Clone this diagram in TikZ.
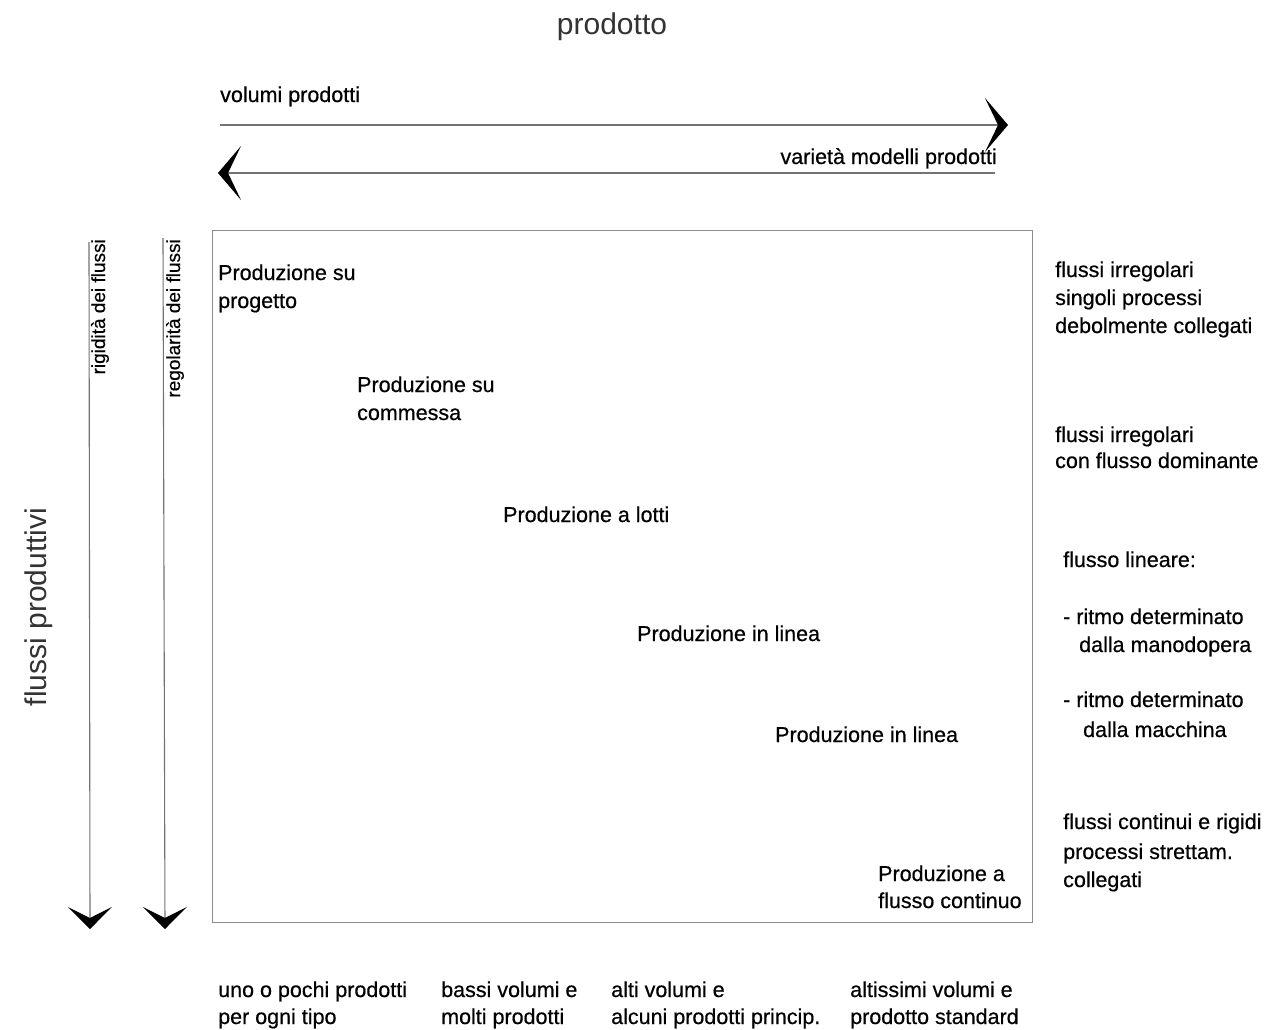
\documentclass[tikz,border=0pt]{standalone}
\usepackage{fontspec}
\setmainfont{Liberation Sans}[FakeBold=0.5]
\newfontfamily\thinfont{Liberation Sans}
\usetikzlibrary{arrows.meta}
\begin{document}
\begin{tikzpicture}[x=1pt,y=-1pt,
  lbl/.style={inner sep=0pt, anchor=base west, font=\fontsize{21.5}{28}\selectfont, text=black},
  lblr/.style={lbl, anchor=base east},
  vlbl/.style={inner sep=0pt, rotate=90, anchor=east, font=\fontsize{19}{23}\selectfont, text=black},
  biglbl/.style={inner sep=0pt, font=\thinfont\fontsize{30}{34}\selectfont, text=black!80},
  axisline/.style={draw=black!55, line width=1.1pt},
  harrow/.style={axisline, -{Stealth[length=23pt, width=54pt, inset=13pt, color=black]}},
  varrow/.style={axisline, -{Stealth[length=22pt, width=44pt, inset=11pt, color=black]}},
  frame/.style={draw=black!45, line width=1pt},
]
\useasboundingbox[fill=white] (0,0) rectangle (1274,1029);

% titles
\node[biglbl, anchor=base] (title) at (612,34) {prodotto};
\node[biglbl, rotate=90] (flussi) at (39,607) {flussi produttivi};

% horizontal arrows
\coordinate (h1s) at (220,125);
\coordinate (h1e) at (1008,125);
\coordinate (h2s) at (995,173);
\coordinate (h2e) at (218,173);
\draw[harrow] (h1s) -- (h1e);
\draw[harrow] (h2s) -- (h2e);
\node[lbl] (vol) at (220,102) {volumi prodotti};
\node[lblr] (var) at (997,164) {varietà modelli prodotti};

% vertical arrows
\coordinate (v1s) at (89,242);
\coordinate (v1e) at (90,929);
\coordinate (v2s) at (163,238);
\coordinate (v2e) at (165,929);
\draw[varrow] (v1s) -- (v1e);
\draw[varrow] (v2s) -- (v2e);
\node[vlbl] (rig) at (100,239) {rigidità dei flussi};
\node[vlbl] (reg) at (175,239) {regolarità dei flussi};

% frame
\coordinate (bl) at (212,922);
\coordinate (tr) at (1032,230);
\draw[frame] (bl) rectangle (tr);

% production types
\node[lbl] (p1a) at (218,280) {Produzione su};
\node[lbl] (p1b) at (218,308) {progetto};
\node[lbl] (p2a) at (357,392) {Produzione su};
\node[lbl] (p2b) at (357,420) {commessa};
\node[lbl] (p3) at (503,522) {Produzione a lotti};
\node[lbl] (p4) at (637,641) {Produzione in linea};
\node[lbl] (p5) at (775,742) {Produzione in linea};
\node[lbl] (p6a) at (878,881) {Produzione a};
\node[lbl] (p6b) at (878,908) {flusso continuo};

% right column
\node[lbl] (r1a) at (1055,277) {flussi irregolari};
\node[lbl] (r1b) at (1055,305) {singoli processi};
\node[lbl] (r1c) at (1055,333) {debolmente collegati};
\node[lbl] (r2a) at (1055,442) {flussi irregolari};
\node[lbl] (r2b) at (1055,468) {con flusso dominante};
\node[lbl] (r3) at (1063,567) {flusso lineare:};
\node[lbl] (r4a) at (1063,624) {- ritmo determinato};
\node[lbl] (r4b) at (1079,652) {dalla manodopera};
\node[lbl] (r5a) at (1063,707) {- ritmo determinato};
\node[lbl] (r5b) at (1083,737) {dalla macchina};
\node[lbl] (r6a) at (1063,829) {flussi continui e rigidi};
\node[lbl] (r6b) at (1063,859) {processi strettam.};
\node[lbl] (r6c) at (1063,887) {collegati};

% bottom row
\node[lbl] (b1a) at (218,997) {uno o pochi prodotti};
\node[lbl] (b1b) at (218,1024) {per ogni tipo};
\node[lbl] (b2a) at (441,997) {bassi volumi e};
\node[lbl] (b2b) at (441,1024) {molti prodotti};
\node[lbl] (b3a) at (611,997) {alti volumi e};
\node[lbl] (b3b) at (611,1024) {alcuni prodotti princip.};
\node[lbl] (b4a) at (850,997) {altissimi volumi e};
\node[lbl] (b4b) at (850,1024) {prodotto standard};
\end{tikzpicture}
\end{document}
